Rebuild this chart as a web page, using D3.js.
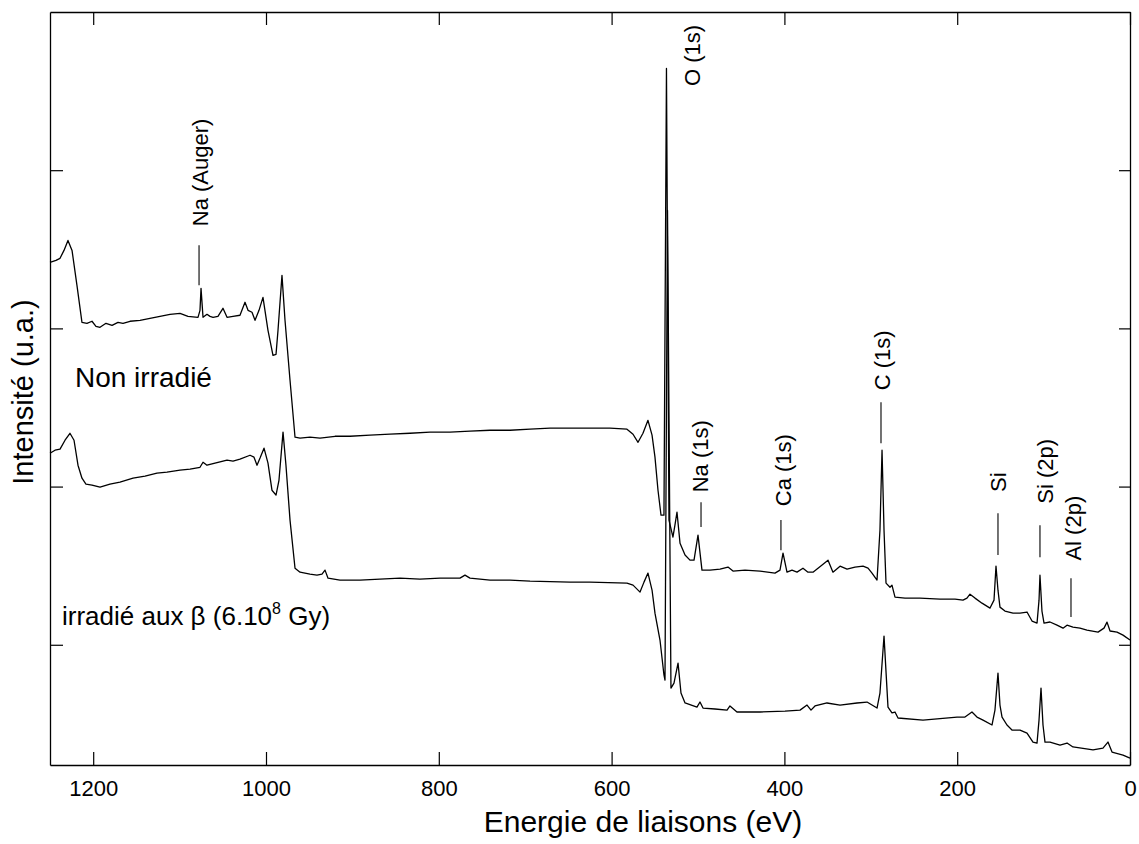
<!DOCTYPE html>
<html><head><meta charset="utf-8">
<script src="https://cdn.jsdelivr.net/npm/d3@7"></script>
<style>
body{margin:0;background:#fff}
text{font-family:"Liberation Sans",Arial,Helvetica,sans-serif;fill:#000}
</style>
</head><body>
<svg id="chart" width="1139" height="844"></svg>
<script>
// ---------- data ----------
const xTicks = [1200, 1000, 800, 600, 400, 200, 0];
const yTicks = [1, 2, 3, 4];

// Non irradié spectrum
const energyNon = [1250,1243.1,1238.4,1233.8,1229.2,1224.5,1218.8,1213.0,1207.2,1201.4,
1196.8,1192.1,1185.2,1178.2,1171.3,1165.5,1157.4,1145.8,1134.3,1122.7,
1111.1,1099.5,1090.3,1078.7,1076.4,1075.2,1072.9,1068.3,1064.8,1061.3,
1055.6,1049.8,1045.1,1038.2,1030.1,1024.3,1020.8,1016.2,1012.7,1008.1,
1003.5,997.7,991.9,988.4,986.1,981.5,978.0,972.2,966.4,960.6,
949.1,937.5,920.1,902.8,879.6,856.5,833.3,810.2,787.0,763.9,
740.7,717.6,694.4,671.3,648.1,625.0,601.9,582.2,575.2,569.4,
563.7,557.9,553.2,549.8,546.3,542.8,539.4,536.5,533.6,529.0,
526.7,524.3,520.8,515.0,509.3,504.6,500.0,495.4,486.1,474.5,
465.3,459.5,445.6,428.2,410.9,405.1,401.6,397.0,391.2,385.4,
378.5,372.7,366.9,349.5,343.8,335.6,327.5,318.3,309.0,303.2,
298.6,292.8,289.4,287.0,284.7,282.4,277.8,275.5,272.0,260.4,
243.1,219.9,202.5,193.3,188.7,185.2,179.4,171.3,162.0,157.4,
155.1,152.8,150.5,144.7,135.4,127.3,119.2,113.4,107.6,105.3,
104.2,101.9,99.5,92.6,84.5,77.5,72.9,66.0,57.9,49.8,
37.0,30.1,26.6,23.1,15.0,8.1,0];
const intensityNon = [3.418,3.430,3.443,3.493,3.556,3.493,3.272,3.038,3.032,3.045,
3.013,3.007,3.032,3.019,3.038,3.032,3.045,3.051,3.064,3.076,
3.089,3.095,3.076,3.070,3.114,3.253,3.070,3.089,3.076,3.070,
3.076,3.127,3.070,3.076,3.083,3.165,3.114,3.102,3.051,3.114,
3.196,2.988,2.830,2.836,2.988,3.335,3.051,2.672,2.312,2.306,
2.312,2.306,2.318,2.318,2.325,2.331,2.337,2.344,2.344,2.350,
2.356,2.356,2.363,2.369,2.369,2.369,2.369,2.363,2.331,2.280,
2.337,2.419,2.325,2.186,1.977,1.819,1.819,4.643,1.788,1.680,
1.756,1.838,1.642,1.567,1.535,1.535,1.693,1.472,1.472,1.478,
1.491,1.466,1.472,1.466,1.453,1.472,1.579,1.459,1.472,1.459,
1.484,1.459,1.459,1.535,1.459,1.497,1.478,1.491,1.497,1.484,
1.453,1.409,1.724,2.230,1.724,1.390,1.364,1.377,1.301,1.295,
1.295,1.289,1.289,1.282,1.295,1.320,1.295,1.263,1.232,1.282,
1.497,1.345,1.238,1.213,1.200,1.200,1.207,1.150,1.137,1.282,
1.440,1.213,1.137,1.144,1.124,1.105,1.124,1.112,1.105,1.093,
1.080,1.105,1.143,1.087,1.080,1.061,1.030];

// irradié aux β spectrum
const energyIrr = [1250,1244.2,1238.4,1232.6,1226.9,1222.2,1217.6,1213.0,1208.4,1201.4,
1192.1,1180.6,1169.0,1153.9,1140.0,1126.2,1114.6,1099.5,1087.9,1076.4,
1072.9,1068.3,1059.0,1045.1,1038.2,1030.1,1018.5,1013.9,1010.4,1006.9,
1002.3,997.7,993.1,988.4,985.0,980.3,976.9,972.2,966.4,960.6,
949.1,941.0,935.2,931.7,928.2,914.4,891.2,868.1,844.9,821.8,
798.6,775.5,769.7,763.9,740.7,717.6,694.4,648.1,625.0,582.2,
575.2,567.1,562.5,557.9,553.2,549.8,544.0,539.4,538.2,535.3,
531.3,527.8,523.1,519.7,515.0,501.2,497.7,494.2,480.3,466.4,
463.0,454.9,428.2,399.3,381.9,373.8,369.2,364.6,350.7,335.6,
316.0,304.4,292.8,289.4,284.7,280.1,275.5,272.0,268.5,239.6,
200.2,191.0,182.9,177.1,170.1,159.7,156.3,152.8,150.5,148.1,
142.4,136.6,127.3,119.2,112.3,107.6,105.3,103.0,100.7,98.4,
92.6,81.0,72.9,66.0,42.8,31.3,25.5,20.8,8.1,0];
const intensityIrr = [2.211,2.230,2.237,2.293,2.337,2.293,2.135,2.053,2.015,2.009,
1.996,2.015,2.028,2.053,2.066,2.085,2.091,2.104,2.110,2.122,
2.154,2.135,2.148,2.167,2.161,2.173,2.198,2.186,2.135,2.180,
2.243,2.148,1.977,1.946,2.040,2.344,2.135,1.788,1.484,1.459,
1.447,1.440,1.447,1.472,1.421,1.409,1.409,1.415,1.421,1.415,
1.421,1.421,1.440,1.421,1.409,1.409,1.402,1.396,1.396,1.390,
1.377,1.333,1.396,1.453,1.346,1.200,1.030,0.809,0.777,3.746,
0.726,0.758,0.884,0.695,0.632,0.606,0.638,0.600,0.594,0.587,
0.613,0.575,0.575,0.581,0.587,0.619,0.587,0.613,0.632,0.619,
0.632,0.638,0.600,0.695,1.055,0.606,0.569,0.575,0.537,0.524,
0.543,0.543,0.575,0.543,0.524,0.493,0.587,0.821,0.619,0.543,
0.493,0.461,0.461,0.442,0.385,0.379,0.524,0.726,0.493,0.385,
0.385,0.366,0.379,0.354,0.335,0.347,0.385,0.322,0.303,0.284];

// peak annotations
const peakNames       = ["Na (Auger)", "O (1s)", "Na (1s)", "Ca (1s)", "C (1s)", "Si", "Si (2p)", "Al (2p)"];
const peakTextEnergy  = [1076.4, 506.9, 497.7, 401.6, 287.0, 152.8, 98.4, 66.0];
const peakTextLevel   = [3.986, 4.725, 2.192, 2.104, 2.798, 2.028, 2.097, 1.737];
const peakLineEnergy  = [1077.5, null, 496.5, 404.0, 288.2, 152.8, 104.2, 68.3];
const peakLineTop     = [3.525, null, 1.901, 1.788, 2.533, 1.832, 1.756, 1.421];
const peakLineBottom  = [3.272, null, 1.744, 1.598, 2.274, 1.567, 1.554, 1.175];

// curve labels
const seriesLabels = ["Non irradié", "irradié aux β (6.10", "8", " Gy)"];
const seriesLabelEnergy = [1221.1, 1236.1];
const seriesLabelLevel  = [2.628, 1.124];

const xTitle = "Energie de liaisons (eV)";
const yTitle = "Intensité (u.a.)";

// ---------- layout ----------
const W = 1139, H = 844;
const m = {left: 50, right: 9, top: 12, bottom: 79};
const svg = d3.select("#chart");

const x = d3.scaleLinear().domain([1250, 0]).range([m.left, W - m.right]);
const y = d3.scaleLinear().domain([0.24, 5]).range([H - m.bottom, m.top]);

const FONT = '"Liberation Sans",Arial,Helvetica,sans-serif';

// axes (ticks inward)
const gB = svg.append("g").attr("transform", `translate(0,${y.range()[0]})`)
  .call(d3.axisBottom(x).tickValues(xTicks).tickFormat(d3.format("d")).tickSizeInner(-13).tickSizeOuter(0).tickPadding(15));
const gT = svg.append("g").attr("transform", `translate(0,${y.range()[1]})`)
  .call(d3.axisTop(x).tickValues(xTicks).tickFormat("").tickSizeInner(-13).tickSizeOuter(0));
const gL = svg.append("g").attr("transform", `translate(${x.range()[0]},0)`)
  .call(d3.axisLeft(y).tickValues(yTicks).tickFormat("").tickSizeInner(-13).tickSizeOuter(0));
const gR = svg.append("g").attr("transform", `translate(${x.range()[1]},0)`)
  .call(d3.axisRight(y).tickValues(yTicks).tickFormat("").tickSizeInner(-11).tickSizeOuter(0));

[gB, gT, gL, gR].forEach(g => {
  g.selectAll(".domain").attr("stroke", "#000").attr("stroke-width", 1.3);
  g.selectAll(".tick line").attr("stroke", "#000").attr("stroke-width", 1.2);
});
gB.selectAll(".tick text").attr("font-family", FONT).attr("font-size", 22).attr("fill", "#000");

// spectra
const line = d3.line().x(d => x(d[0])).y(d => y(d[1]));
const seriesData = [d3.zip(energyNon, intensityNon), d3.zip(energyIrr, intensityIrr)];
svg.append("g").selectAll("path").data(seriesData).join("path")
  .attr("d", line).attr("fill", "none").attr("stroke", "#000")
  .attr("stroke-width", 1.3).attr("stroke-linejoin", "round");

// peak labels
const peaks = peakNames.map((n, i) => ({n, te: peakTextEnergy[i], tl: peakTextLevel[i],
  le: peakLineEnergy[i], lt: peakLineTop[i], lb: peakLineBottom[i]}));
const gP = svg.append("g");
gP.selectAll("text").data(peaks).join("text")
  .attr("transform", d => `translate(${x(d.te)},${y(d.tl)}) rotate(-90)`)
  .attr("text-anchor", "middle").attr("dy", "0.35em")
  .attr("font-size", 22).text(d => d.n);
gP.selectAll("line").data(peaks.filter(d => d.le !== null)).join("line")
  .attr("x1", d => x(d.le)).attr("x2", d => x(d.le))
  .attr("y1", d => y(d.lt)).attr("y2", d => y(d.lb))
  .attr("stroke", "#000").attr("stroke-width", 1.1);

// series labels
svg.append("text").attr("x", x(seriesLabelEnergy[0])).attr("y", y(seriesLabelLevel[0]))
  .attr("font-size", 28).text(seriesLabels[0]);
const t2 = svg.append("text").attr("x", x(seriesLabelEnergy[1])).attr("y", y(seriesLabelLevel[1]))
  .attr("font-size", 26);
t2.append("tspan").text(seriesLabels[1]);
t2.append("tspan").attr("font-size", 16).attr("dy", -11).text(seriesLabels[2]);
t2.append("tspan").attr("dy", 11).text(seriesLabels[3]);

// axis titles
svg.append("text").attr("x", 643).attr("y", 832)
  .attr("text-anchor", "middle").attr("font-size", 30).text(xTitle);
svg.append("text").attr("transform", `translate(33,392) rotate(-90)`)
  .attr("text-anchor", "middle").attr("font-size", 29).text(yTitle);
</script>
</body></html>
